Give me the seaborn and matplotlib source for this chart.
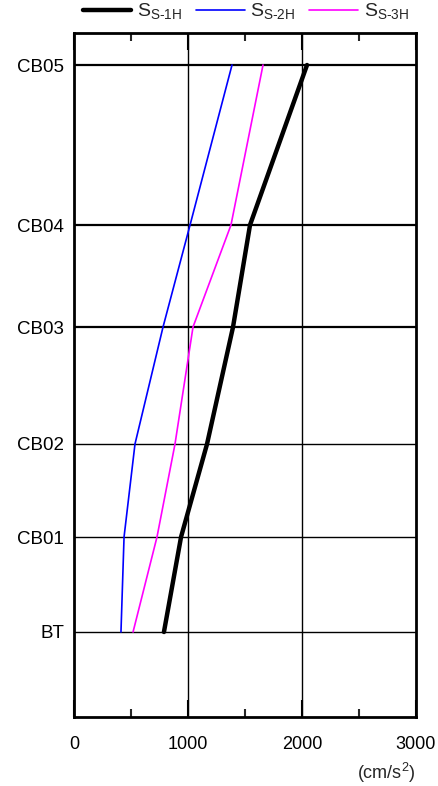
import pandas as pd
import matplotlib.pyplot as plt
import seaborn as sns
from matplotlib.ticker import MultipleLocator

# Levels (bottom to top) and their relative elevation
levels = ['BT', 'CB01', 'CB02', 'CB03', 'CB04', 'CB05']
elev = [85, 180, 273, 390, 492, 652]
elev_top = 684

# Maximum response acceleration (cm/s2)
ss1h = [789, 939, 1167, 1395, 1544, 2044]
ss2h = [412, 439, 535, 781, 1018, 1386]
ss3h = [518, 728, 886, 1044, 1377, 1658]

series_names = ['Ss-1H', 'Ss-2H', 'Ss-3H']
series_labels = ['S$\\mathregular{_{S\u20101H}}$', 'S$\\mathregular{_{S\u20102H}}$',
                 'S$\\mathregular{_{S\u20103H}}$']
colors = ['black', '#0000ff', '#ff00ff']
widths = [3.2, 1.2, 1.2]

rows = []
for name, vals in zip(series_names, [ss1h, ss2h, ss3h]):
    for lv, e, v in zip(levels, elev, vals):
        rows.append({'series': name, 'level': lv, 'elev': e, 'acc': v})
df = pd.DataFrame(rows)

sns.set_theme(style="white")
plt.rcParams['font.family'] = ['Liberation Sans', 'DejaVu Sans']
plt.rcParams['mathtext.fontset'] = 'custom'
plt.rcParams['mathtext.rm'] = 'Liberation Sans'

fig = plt.figure(figsize=(4.39, 7.86), dpi=100)
ax = fig.add_axes([74 / 439, 69 / 786, 342 / 439, 684 / 786])

for name, lab, c, w in zip(series_names, series_labels, colors, widths):
    sns.lineplot(data=df[df['series'] == name], x='acc', y='elev', orient='y', sort=False,
                 color=c, linewidth=w, label=lab, ax=ax, solid_capstyle='round')

ax.set_xlim(0, 3000)
ax.set_ylim(0, elev_top)
ax.set_xticks([0, 1000, 2000, 3000])
ax.xaxis.set_minor_locator(MultipleLocator(500))
ax.set_yticks(elev)
ax.set_yticklabels(levels)

for e, lw in zip(elev, [1.0, 1.0, 1.0, 1.6, 1.6, 1.6]):
    ax.axhline(e, color='black', linewidth=lw, zorder=0)
for xv in [1000, 2000]:
    ax.axvline(xv, color='black', linewidth=1.0, zorder=0)

ax.tick_params(axis='x', which='major', direction='in', length=12, width=1.5,
               top=True, bottom=True, labelsize=13, pad=14, colors='black')
ax.tick_params(axis='x', which='minor', direction='in', length=6, width=1.5,
               top=True, bottom=True)
ax.tick_params(axis='y', length=0, labelsize=13.5, pad=7, colors='black')

for s in ax.spines.values():
    s.set_color('black')
    s.set_linewidth(2)

ax.set_xlabel('')
ax.set_ylabel('')
ax.text(1.0, -0.064, r'(cm/s$^2$)', transform=ax.transAxes, ha='right', va='top', fontsize=13)

handles, labels = ax.get_legend_handles_labels()
ax.get_legend().remove()
fig.legend(handles, labels, loc='upper center', bbox_to_anchor=(0.56, 1.008), ncol=3,
           frameon=False, fontsize=14, handlelength=2.5, handletextpad=0.3,
           columnspacing=0.7, borderaxespad=0.0)

plt.savefig('out.png', dpi=100)
plt.close()
